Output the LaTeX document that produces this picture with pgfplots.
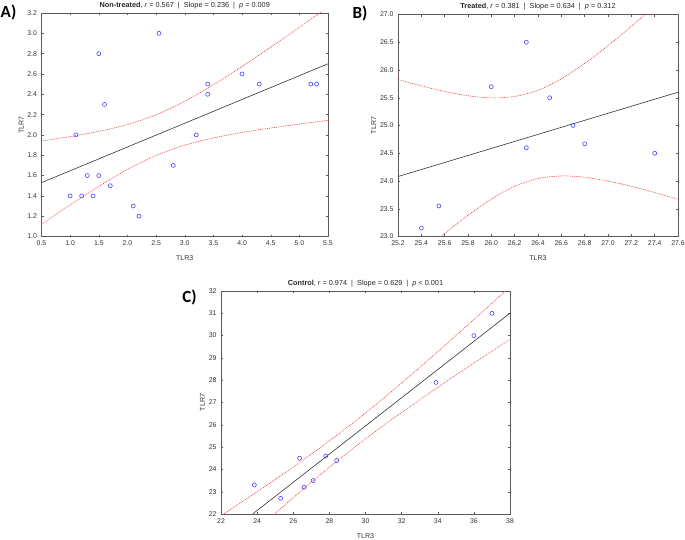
\documentclass[border=0pt]{standalone}
\usepackage{fontspec}
\setmainfont{Liberation Sans}
\newfontfamily\labfont{Carlito}
\usepackage{pgfplots}
\pgfplotsset{compat=1.18}
\definecolor{ptblue}{RGB}{70,70,255}
\definecolor{bandred}{RGB}{240,60,60}
\definecolor{frame}{RGB}{90,90,90}
\pgfplotsset{
  panel/.style={
    scale only axis, anchor=south west,
    axis line style={frame, line width=0.6pt},
    tick pos=both, tick align=inside, major tick length=2pt,
    tick style={frame, line width=0.4pt},
    /pgf/number format/assume math mode=true,
    ticklabel style={font=\fontsize{6.9}{8}\selectfont, text=black!80},
    label style={font=\fontsize{7}{8}\selectfont, text=black!80},
    xlabel style={yshift=-3pt},
    ylabel style={yshift=-3pt},
    title style={font=\fontsize{7.3}{8}\selectfont, text=black!85, yshift=-5.5pt},
    xticklabel style={yshift=-1pt},
    yticklabel style={xshift=-1pt},
  },
  pts/.style={only marks, mark=o, mark size=2pt, mark options={ptblue, line width=0.6pt}},
  reg/.style={no marks, black!80, line width=0.6pt},
  band/.style={no marks, smooth, bandred, line width=0.6pt, dash pattern=on 0.9pt off 0.9pt},
  onedec/.style={/pgf/number format/.cd, fixed, fixed zerofill, precision=1},
}
\begin{document}
\begin{tikzpicture}[x=1pt,y=1pt]
\path[use as bounding box] (0,0) rectangle (685,539);
% ---------------- A ----------------
\begin{axis}[panel, at={(41.5pt,302.5pt)}, width=286.5pt, height=223.5pt,
  xmin=0.5, xmax=5.5, ymin=1.0, ymax=3.2,
  xtick={0.5,1.0,...,5.5}, ytick={1.0,1.2,...,3.2},
  xticklabel style={onedec}, yticklabel style={onedec},
  xlabel={TLR3}, ylabel={TLR7},
  title={\textbf{Non-treated}, \textit{r} = 0.567 \ | \ Slope = 0.236 \ | \ \textit{p} = 0.009}]
\addplot[band] coordinates {(0.5,1.940) (1.0,1.983) (1.5,2.035) (2.0,2.102) (2.5,2.198) (3.0,2.331) (3.5,2.494) (4.0,2.674) (4.5,2.864) (5.0,3.059) (5.5,3.257)};
\addplot[band] coordinates {(0.5,1.120) (1.0,1.311) (1.5,1.493) (2.0,1.660) (2.5,1.798) (3.0,1.899) (3.5,1.970) (4.0,2.024) (4.5,2.068) (5.0,2.107) (5.5,2.143)};
\addplot[reg] coordinates {(0.5,1.53) (5.5,2.70)};
\addplot[pts] coordinates {(1.0,1.4) (1.1,2.0) (1.2,1.4) (1.3,1.6) (1.4,1.4) (1.5,1.6) (1.5,2.8) (1.6,2.3) (1.7,1.5) (2.1,1.3) (2.2,1.2) (2.55,3.0) (2.8,1.7) (3.2,2.0) (3.4,2.5) (3.4,2.4) (4.0,2.6) (4.3,2.5) (5.2,2.5) (5.3,2.5)};
\end{axis}
% ---------------- B ----------------
\begin{axis}[panel, at={(398pt,302.5pt)}, width=280pt, height=222pt,
  xmin=25.2, xmax=27.6, ymin=23.0, ymax=27.0,
  xtick={25.2,25.4,...,27.61}, ytick={23.0,23.5,...,27.0},
  xticklabel style={onedec}, yticklabel style={onedec},
  xlabel={TLR3}, ylabel={TLR7},
  title={\textbf{Treated}, \textit{r} = 0.381 \ | \ Slope = 0.634 \ | \ \textit{p} = 0.312}]
\addplot[band] coordinates {(25.2,25.829) (25.4,25.715) (25.6,25.613) (25.8,25.536) (26.0,25.497) (26.2,25.523) (26.4,25.636) (26.6,25.841) (26.8,26.118) (27.0,26.439) (27.2,26.788) (27.4,27.154) (27.6,27.530)};
\addplot[band] coordinates {(25.2,22.331) (25.4,22.699) (25.6,23.053) (25.8,23.384) (26.0,23.675) (26.2,23.903) (26.4,24.044) (26.6,24.091) (26.8,24.068) (27.0,23.999) (27.2,23.904) (27.4,23.792) (27.6,23.670)};
\addplot[reg] coordinates {(25.2,24.08) (27.6,25.60)};
\addplot[pts] coordinates {(25.4,23.15) (25.55,23.55) (26.0,25.7) (26.3,26.5) (26.3,24.6) (26.5,25.5) (26.7,25.0) (26.8,24.67) (27.4,24.5)};
\end{axis}
% ---------------- C ----------------
\begin{axis}[panel, at={(221pt,25pt)}, width=289pt, height=223pt,
  xmin=22, xmax=38, ymin=22, ymax=32,
  xtick={22,24,...,38}, ytick={22,23,...,32},
  xlabel={TLR3}, ylabel={TLR7},
  title={\textbf{Control}, \textit{r} = 0.974 \ | \ Slope = 0.629 \ | \ \textit{p} < 0.001}]
\addplot[band] coordinates {(22,21.920) (23,22.456) (24,22.998) (25,23.549) (26,24.110) (27,24.685) (28,25.277) (30,26.530) (32,27.873) (34,29.280) (36,30.722) (37,31.452) (38,32.185)};
\addplot[band] coordinates {(22,19.870) (23,20.596) (24,21.318) (25,22.031) (26,22.734) (27,23.423) (28,24.095) (30,25.370) (32,26.555) (34,27.676) (36,28.762) (37,29.296) (38,29.827)};
\addplot[reg] coordinates {(23.75,22.0) (38,31.006)};
\addplot[pts] coordinates {(23.85,23.3) (25.3,22.7) (26.35,24.5) (26.6,23.2) (27.1,23.5) (27.8,24.6) (28.4,24.4) (33.9,27.9) (36.0,30.0) (37.0,31.0)};
\end{axis}
\node[font=\labfont\bfseries\fontsize{17}{18}\selectfont] at (8.5,527) {A)};
\node[font=\labfont\bfseries\fontsize{17}{18}\selectfont] at (360,526) {B)};
\node[font=\labfont\bfseries\fontsize{17}{18}\selectfont] at (189.5,242) {C)};
\end{tikzpicture}
\end{document}
